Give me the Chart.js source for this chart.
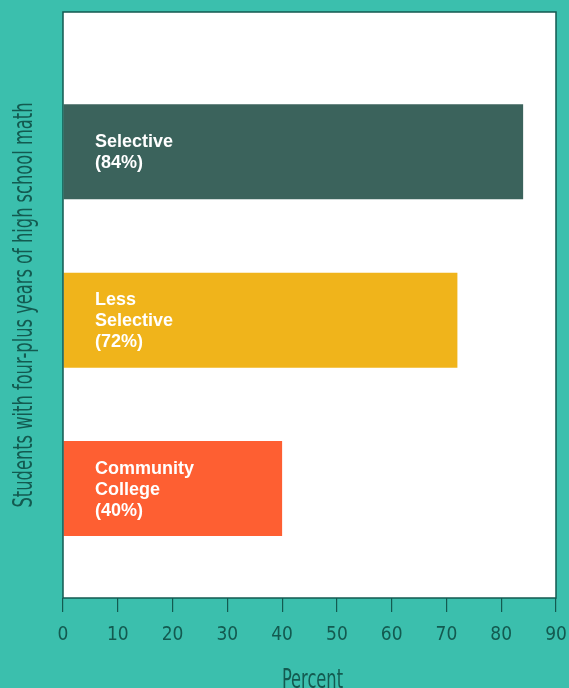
<!DOCTYPE html>
<html>
<head>
<meta charset="utf-8">
<script src="https://cdn.jsdelivr.net/npm/chart.js@4.4.1/dist/chart.umd.min.js"></script>
<style>
  html, body { margin: 0; padding: 0; background: #3bbfad; }
  #wrap { width: 569px; height: 688px; }
</style>
</head>
<body>
<div id="wrap"><canvas id="chart" width="569" height="688"></canvas></div>
<script>
// ——— DATA ———
const categories = ['Selective', 'Less Selective', 'Community College'];
const values = [84, 72, 40];
const barColors = ['#3b635c', '#f0b41b', '#fe5f32'];
const xTicks = [0, 10, 20, 30, 40, 50, 60, 70, 80, 90];
const yTitle = 'Students with four-plus years of high school math';
const xTitle = 'Percent';

const DARK = '#135a50';
const NARROW = '"Liberation Sans Narrow", "DejaVu Sans Condensed", sans-serif';

// bars sit on a numeric row axis: row 1 at top
const rows = categories.map((_, i) => i + 1);
const points = values.map((v, i) => ({ x: v, y: rows[i] }));

// ——— PLOT BOX + LABELS ———
const plotBox = {
    id: 'plotBox',
    beforeDatasetsDraw(chart) {
        const { ctx, chartArea: a } = chart;
        ctx.save();
        ctx.fillStyle = '#ffffff';
        ctx.fillRect(a.left, a.top, a.right - a.left, a.bottom - a.top);
        ctx.restore();
    },
    afterDatasetsDraw(chart) {
        const { ctx, chartArea: a } = chart;
        ctx.save();
        ctx.strokeStyle = DARK;
        ctx.lineWidth = 1.5;
        ctx.strokeRect(a.left, a.top, a.right - a.left, a.bottom - a.top);

        // text inside each bar
        ctx.fillStyle = '#ffffff';
        ctx.font = 'bold 18px "Liberation Sans", Arial, sans-serif';
        ctx.textBaseline = 'middle';
        ctx.textAlign = 'left';
        const meta = chart.getDatasetMeta(0);
        meta.data.forEach((bar, i) => {
            const lines = categories[i].split(' ').concat('(' + values[i] + '%)');
            const lh = 21;
            const y0 = bar.y + 1 - (lines.length - 1) * lh / 2;
            lines.forEach((t, j) => ctx.fillText(t, a.left + 32, y0 + j * lh));
        });

        // axis titles, tall condensed lettering
        ctx.fillStyle = DARK;
        ctx.font = '27px ' + NARROW;
        ctx.textAlign = 'center';
        ctx.textBaseline = 'alphabetic';
        ctx.save();
        ctx.translate((a.left + a.right) / 2 + 3, 688);
        ctx.scale(0.67, 1);
        ctx.fillText(xTitle, 0, 0);
        ctx.restore();

        ctx.save();
        ctx.translate(32, (a.top + a.bottom) / 2);
        ctx.rotate(-Math.PI / 2);
        ctx.scale(0.67, 1);
        ctx.fillText(yTitle, 0, 0);
        ctx.restore();
        ctx.restore();
    }
};

new Chart(document.getElementById('chart'), {
    type: 'bar',
    data: {
        datasets: [{
            data: points,
            backgroundColor: barColors,
            borderWidth: 0,
            categoryPercentage: 1,
            barPercentage: 0.564
        }]
    },
    options: {
        indexAxis: 'y',
        responsive: false,
        animation: false,
        layout: { padding: { left: 63, right: 13, top: 12, bottom: 0 } },
        plugins: { legend: { display: false }, tooltip: { enabled: false } },
        scales: {
            y: {
                type: 'linear',
                reverse: true,
                offset: false,
                min: 0.17,
                max: 3.65,
                display: false,
                afterBuildTicks: s => { s.ticks = rows.map(v => ({ value: v })); }
            },
            x: {
                type: 'linear',
                min: 0,
                max: 90,
                afterBuildTicks: s => { s.ticks = xTicks.map(v => ({ value: v })); },
                afterFit: s => {
                    s.height = 90;
                    s.paddingLeft = 0;
                    s.paddingRight = 0;
                },
                border: { display: false },
                grid: {
                    drawOnChartArea: false,
                    drawTicks: true,
                    tickLength: 14,
                    color: DARK,
                    lineWidth: 1.2
                },
                ticks: {
                    color: DARK,
                    padding: 12,
                    font: { family: NARROW, size: 19 }
                }
            }
        }
    },
    plugins: [plotBox]
});
</script>
</body>
</html>
